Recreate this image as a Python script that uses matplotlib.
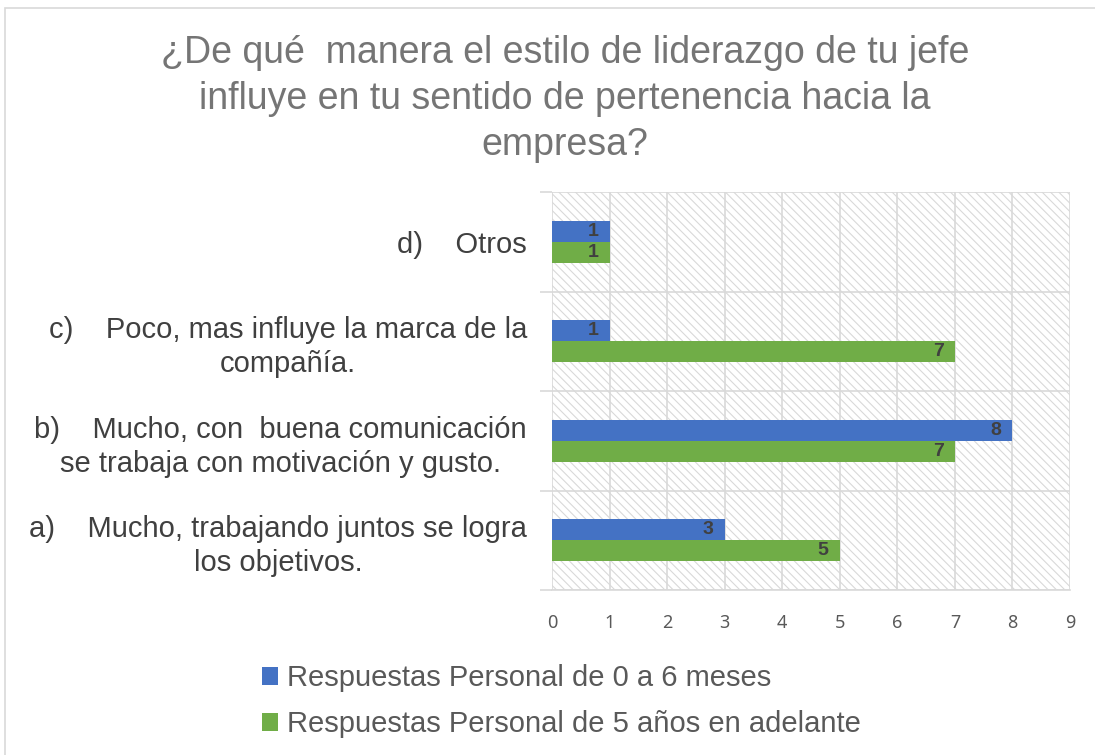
import matplotlib.pyplot as plt
from matplotlib.patches import Rectangle, Patch

plt.rcParams['font.family'] = ['Liberation Sans', 'DejaVu Sans']
plt.rcParams['hatch.color'] = '#d9d9d9'
plt.rcParams['hatch.linewidth'] = 0.8

categorias = [
    "a)    Mucho, trabajando juntos se logra\nlos objetivos.",
    "b)    Mucho, con  buena comunicación\nse trabaja con motivación y gusto.",
    "c)    Poco, mas influye la marca de la\ncompañía.",
    "d)    Otros",
]
serie_0a6 = [3, 8, 1, 1]
serie_5mas = [5, 7, 7, 1]
nombres = ["Respuestas Personal de 0 a 6 meses",
           "Respuestas Personal de 5 años en adelante"]
titulo = "¿De qué  manera el estilo de liderazgo de tu jefe\ninfluye en tu sentido de pertenencia hacia la\nempresa?"

azul = '#4472C4'
verde = '#70AD47'
gris = '#d9d9d9'

fig = plt.figure(figsize=(10.95, 7.55), dpi=100)
fig.patches.append(Rectangle((5/1095, -0.01), 1.1, 1 - 8/755 + 0.01, transform=fig.transFigure,
                             fill=False, edgecolor=gris, linewidth=1.2))

ax = fig.add_axes([552/1095, 1 - 590/755, 518/1095, 398/755])
ax.patch.set_facecolor('white')
ax.patch.set_hatch('\\\\\\\\')
ax.patch.set_edgecolor(gris)

h = 0.21
pos = list(range(len(categorias)))
ax.barh([p + h/2 for p in pos], serie_0a6, height=h, color=azul, zorder=3)
ax.barh([p - h/2 for p in pos], serie_5mas, height=h, color=verde, zorder=3)

for p, v in zip(pos, serie_0a6):
    ax.annotate(str(v), (v, p + h/2), xytext=(-8, 0), textcoords='offset points',
                ha='right', va='center', fontsize=14, fontweight='bold', color='#404040', zorder=4)
for p, v in zip(pos, serie_5mas):
    ax.annotate(str(v), (v, p - h/2), xytext=(-8, 0), textcoords='offset points',
                ha='right', va='center', fontsize=14, fontweight='bold', color='#404040', zorder=4)

ax.set_xlim(0, 9)
ax.set_ylim(-0.5, 3.5)
ax.set_xticks(range(10))
ax.set_yticks(pos)
ax.set_yticklabels(categorias, multialignment='center', linespacing=1.28)
ax.set_yticks([-0.5, 0.5, 1.5, 2.5, 3.5], minor=True)
ax.tick_params(axis='y', which='major', length=0, pad=18, labelsize=21, labelcolor='#404040')
ax.tick_params(axis='y', which='minor', length=9, color=gris, width=1.2)
ax.tick_params(axis='x', length=0, pad=17, labelsize=13, labelcolor='#595959')
for lbl in ax.get_xticklabels():
    lbl.set_fontfamily(['Noto Sans', 'DejaVu Sans'])

ax.grid(True, axis='x', color=gris, linewidth=1.2, zorder=1)
ax.grid(True, axis='y', which='minor', color=gris, linewidth=1.2, zorder=1)
ax.set_axisbelow(True)
for s in ['top', 'right', 'left']:
    ax.spines[s].set_visible(False)
ax.spines['bottom'].set_color(gris)
ax.spines['bottom'].set_linewidth(1.2)

fig.text(0.516, 1 - 35/755, titulo, ha='center', va='top', fontsize=27,
         color='#757575', linespacing=1.36)

handles = [Patch(facecolor=azul), Patch(facecolor=verde)]
fig.legend(handles, nombres, loc='upper left', bbox_to_anchor=(236/1095, 1 - 638/755),
           frameon=False, fontsize=21, labelcolor='#595959', handlelength=0.55,
           handleheight=0.55, handletextpad=0.3, labelspacing=0.62)

fig.savefig('out.png', dpi=100)
